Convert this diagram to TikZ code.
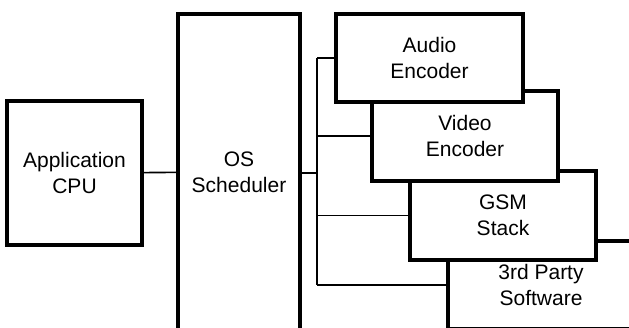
\documentclass[tikz,border=0pt]{standalone}
\usepackage{fontspec}
\setmainfont{Liberation Sans}
\usetikzlibrary{positioning}
\tikzset{
  unit/.style={rectangle, draw, line width=3.2pt, fill=white, align=center, inner sep=0pt, font=\fontsize{21}{26}\selectfont},
  link/.style={line width=1.6pt},
}

\begin{document}
\begin{tikzpicture}[x=1pt, y=-1pt]
  % Frame (boxes run off the page)
  \path[use as bounding box, clip] (0,0) rectangle (629,327);

  % Host side
  \node[unit, minimum width=135pt, minimum height=144pt] (cpu) at (74.5, 173) {Application\\CPU};
  \node[unit, minimum width=122pt, minimum height=316pt] (os) at (239, 172) {OS\\Scheduler};

  % Tasks (drawn back to front)
  \node[unit, minimum width=186pt, minimum height=88pt] (third) at (541, 285) {3rd Party\\Software};
  \node[unit, minimum width=186pt, minimum height=89pt] (gsm) at (503, 215.5) {GSM\\Stack};
  \node[unit, minimum width=186pt, minimum height=90pt] (video) at (465, 136) {Video\\Encoder};
  \node[unit, minimum width=187pt, minimum height=88pt] (audio) at (429.5, 58) {Audio\\Encoder};

  % Bus
  \coordinate (bus) at (317, 173);
  \draw[link] (cpu) -- (os);
  \draw[link] (os.east |- bus) -- (bus);
  \draw[link] (bus |- audio.west) -- (bus |- third.west);
  \foreach \t in {audio, video, gsm, third} {
    \draw[link] (bus |- \t.west) -- (\t.west);
  }
\end{tikzpicture}
\end{document}
